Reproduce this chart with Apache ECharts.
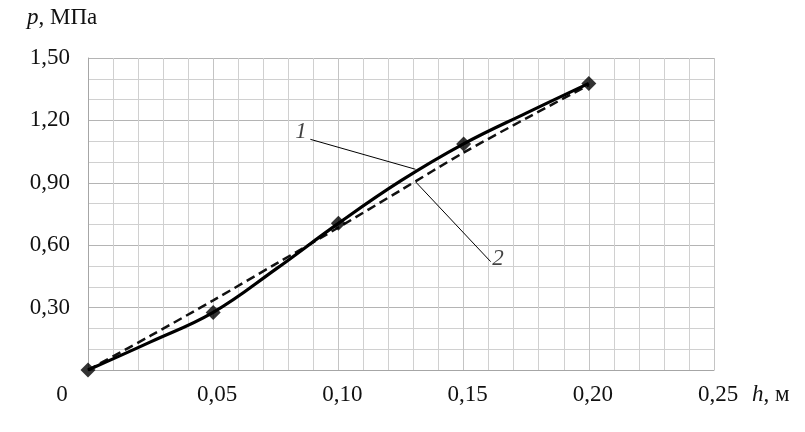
<!DOCTYPE html>
<html><head><meta charset="utf-8">
<script src="https://cdn.jsdelivr.net/npm/echarts@6/dist/echarts.min.js"></script>
<style>html,body{margin:0;padding:0;background:#fff}#c{width:805px;height:432px}</style>
</head><body><div id="c"></div>
<script>
// measured points (curve 1, markers)
const hPoints = [0, 0.05, 0.10, 0.15, 0.20];
const pPoints = [0.0, 0.277, 0.705, 1.087, 1.378];
// curve 1 (solid)
const hCurve1 = [0, 0.025, 0.05, 0.075, 0.10, 0.125, 0.15, 0.175, 0.20];
const pCurve1 = [0.0, 0.135, 0.277, 0.485, 0.705, 0.91, 1.087, 1.235, 1.378];
// curve 2 (dashed)
const hCurve2 = [0, 0.025, 0.05, 0.075, 0.10, 0.125, 0.15, 0.175, 0.20];
const pCurve2 = [0.0, 0.165, 0.335, 0.51, 0.685, 0.865, 1.045, 1.21, 1.37];
// leader lines for labels "1" and "2"
const leader1 = [[0.0888, 1.109], [0.1308, 0.965]];
const leader2 = [[0.1308, 0.905], [0.1608, 0.521]];
const curveNames = ['1', '2'];
const xTicks = ['0', '0,05', '0,10', '0,15', '0,20', '0,25'];
const yTicks = ['0', '0,30', '0,60', '0,90', '1,20', '1,50'];

const FONT = '"Liberation Serif", "Times New Roman", serif';
const FS = 23;
const chart = echarts.init(document.getElementById('c'), null, {renderer: 'canvas'});
const zip = (a, b) => a.map((v, i) => [v, b[i]]);
const italicLabel = {fontFamily: FONT, fontStyle: 'italic', fontSize: FS, color: '#111'};

chart.setOption({
  animation: false,
  backgroundColor: '#fff',
  grid: {left: 88, right: 91, top: 58, bottom: 62, containLabel: false},
  xAxis: {
    type: 'value', min: 0, max: 0.25, interval: 0.05,
    axisLine: {show: true, lineStyle: {color: '#a6a6a6', width: 1}},
    axisTick: {show: false},
    minorTick: {show: false, splitNumber: 5},
    splitLine: {show: true, lineStyle: {color: '#c4c4c4', width: 1}},
    minorSplitLine: {show: true, lineStyle: {color: '#d0d0d0', width: 1}},
    axisLabel: {
      margin: 13, color: '#111', fontFamily: FONT, fontSize: FS,
      formatter: (v) => {
        const i = Math.round(v / 0.05);
        return i === 0 ? '{z|' + xTicks[0] + '}' : '{n|' + xTicks[i] + '}';
      },
      rich: {
        z: {fontFamily: FONT, fontSize: FS, color: '#111', padding: [0, 52, 0, 0]},
        n: {fontFamily: FONT, fontSize: FS, color: '#111', padding: [0, 0, 0, 8]}
      }
    }
  },
  yAxis: {
    type: 'value', min: 0, max: 1.5, interval: 0.3,
    axisLine: {show: true, lineStyle: {color: '#a6a6a6', width: 1}},
    axisTick: {show: false},
    minorTick: {show: false, splitNumber: 3},
    splitLine: {show: true, lineStyle: {color: '#b4b4b4', width: 1}},
    minorSplitLine: {show: true, lineStyle: {color: '#d0d0d0', width: 1}},
    axisLabel: {
      margin: 18, color: '#111', fontFamily: FONT, fontSize: FS,
      formatter: (v) => {
        const i = Math.round(v / 0.3);
        return i === 0 ? '' : yTicks[i];
      }
    }
  },
  graphic: [
    {type: 'text', left: 27, top: 6, style: {
      text: '{i|p}, МПа', fill: '#111', font: FS + 'px ' + FONT,
      rich: {i: {fontStyle: 'italic', fontFamily: FONT, fontSize: FS, fill: '#111'}}
    }},
    {type: 'text', left: 752, top: 383, style: {
      text: '{i|h}, м', fill: '#111', font: FS + 'px ' + FONT,
      rich: {i: {fontStyle: 'italic', fontFamily: FONT, fontSize: FS, fill: '#111'}}
    }}
  ],
  series: [
    {
      type: 'line', data: zip(hCurve2, pCurve2), smooth: 0.3, symbol: 'none',
      lineStyle: {color: '#111', width: 2.5, type: [9, 5]}, z: 3
    },
    {
      type: 'line', data: zip(hCurve1, pCurve1), smooth: 0.4, symbol: 'none',
      lineStyle: {color: '#000', width: 3.2}, z: 4
    },
    {
      type: 'scatter', data: zip(hPoints, pPoints), symbol: 'diamond', symbolSize: 15,
      itemStyle: {color: '#000'}, z: 5
    },
    {
      type: 'line', symbol: 'none', silent: true,
      lineStyle: {color: '#000', width: 1}, data: leader1, z: 6
    },
    {
      type: 'line', symbol: 'none', silent: true,
      lineStyle: {color: '#000', width: 1}, data: leader2, z: 6
    },
    {
      type: 'scatter', symbolSize: 1, itemStyle: {color: 'rgba(0,0,0,0)'}, silent: true, z: 7,
      data: [
        {value: leader1[0], label: {show: true, position: 'left', distance: 3, offset: [0, -7],
          formatter: curveNames[0], ...italicLabel}},
        {value: leader2[1], label: {show: true, position: 'right', distance: 1, offset: [0, -3],
          formatter: curveNames[1], ...italicLabel}}
      ]
    }
  ]
});
</script></body></html>
